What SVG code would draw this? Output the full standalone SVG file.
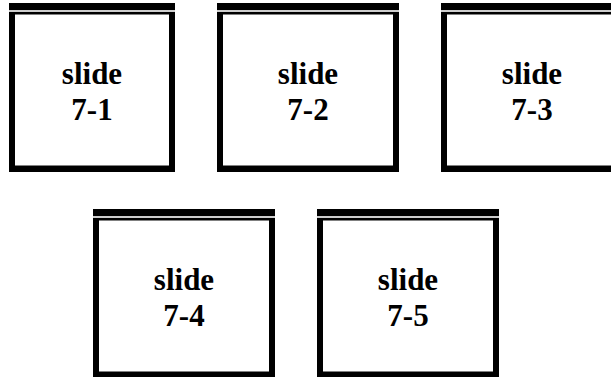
<svg xmlns="http://www.w3.org/2000/svg" width="611" height="377" viewBox="0 0 611 377">
<style>
.frame{fill:#000}
.inner{fill:#fff}
.gap{fill:#fff}
.lbl{font-family:"Liberation Serif","Times New Roman",serif;font-weight:bold;font-size:31px;fill:#000;text-anchor:middle}
</style>
<rect width="611" height="377" fill="#fff"/>
<g id="slide-7-1">
<rect class="frame" x="9" y="3" width="166" height="169"/>
<rect class="gap" x="9" y="10.2" width="166" height="1.6"/>
<rect class="inner" x="15" y="14.5" width="154" height="151"/>
<text class="lbl" x="92" y="83.5">slide</text>
<text class="lbl" x="92" y="120">7-1</text>
</g>
<g id="slide-7-2">
<rect class="frame" x="217" y="3" width="182" height="169"/>
<rect class="gap" x="217" y="10.2" width="182" height="1.6"/>
<rect class="inner" x="223" y="14.5" width="170" height="151"/>
<text class="lbl" x="308" y="83.5">slide</text>
<text class="lbl" x="308" y="120">7-2</text>
</g>
<g id="slide-7-3">
<rect class="frame" x="441" y="3" width="182" height="169"/>
<rect class="gap" x="441" y="10.2" width="182" height="1.6"/>
<rect class="inner" x="447" y="14.5" width="170" height="151"/>
<text class="lbl" x="532" y="83.5">slide</text>
<text class="lbl" x="532" y="120">7-3</text>
</g>
<g id="slide-7-4">
<rect class="frame" x="93" y="209" width="182" height="169"/>
<rect class="gap" x="93" y="216.2" width="182" height="1.6"/>
<rect class="inner" x="99" y="220.5" width="170" height="151"/>
<text class="lbl" x="184" y="289.5">slide</text>
<text class="lbl" x="184" y="326">7-4</text>
</g>
<g id="slide-7-5">
<rect class="frame" x="317" y="209" width="182" height="169"/>
<rect class="gap" x="317" y="216.2" width="182" height="1.6"/>
<rect class="inner" x="323" y="220.5" width="170" height="151"/>
<text class="lbl" x="408" y="289.5">slide</text>
<text class="lbl" x="408" y="326">7-5</text>
</g>
<g id="connectors"/>
</svg>
